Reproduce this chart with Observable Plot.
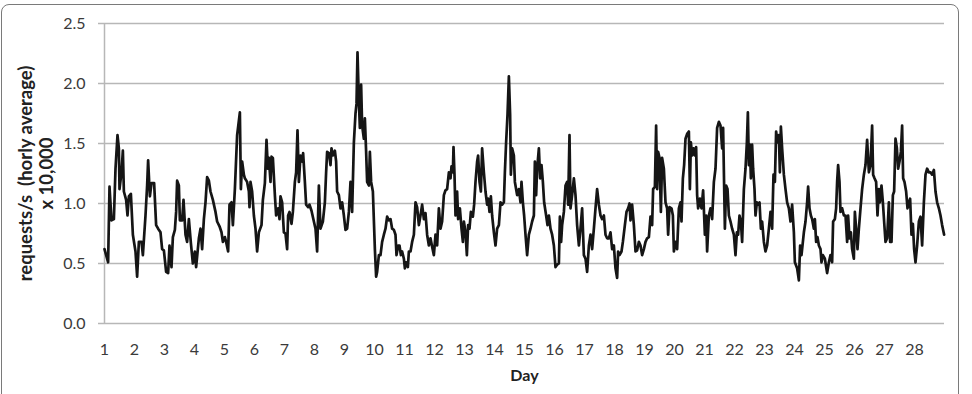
<!DOCTYPE html>
<html>
<head>
<meta charset="utf-8">
<script src="https://cdn.jsdelivr.net/npm/d3@7"></script>
<script src="https://cdn.jsdelivr.net/npm/@observablehq/plot@0.6"></script>
<style>
  html, body { margin: 0; padding: 0; background: #fff; overflow: hidden; }
  #wrap { position: relative; width: 972px; height: 394px; }
  #border { position: absolute; left: 1px; top: 4px; width: 958px; height: 400px;
            border: 1.5px solid #7a7a7a; border-radius: 8px; pointer-events: none; box-sizing: border-box; }
</style>
</head>
<body>
<div id="wrap"><div id="border"></div></div>
<script>
// y axis ticks (requests/s x 10,000)
const yTicks = [0, 0.5, 1.0, 1.5, 2.0, 2.5];
// day labels on the x axis
const dayLabels = [1,2,3,4,5,6,7,8,9,10,11,12,13,14,15,16,17,18,19,20,21,22,23,24,25,26,27,28];
const yLabel1 = "requests/s\u00a0 (horly average)";
const yLabel2 = "x 10,000";
const xLabel = "Day";

// [hour since start, hourly average requests/s / 10,000]
const days1to5 = [
  [0,0.62],[2.9,0.51],[4.0,1.14],[5.6,0.86],[7.5,0.87],[8.8,1.29],[10.4,1.57],[11.5,1.46],[12.0,1.12],[13.6,1.26],
  [14.7,1.44],[15.5,1.10],[17.3,1.03],[18.4,0.90],[19.5,1.06],[21.1,1.08],[22.7,0.74],[24.8,0.60],[26.1,0.39],[27.5,0.68],
  [29.6,0.68],[30.7,0.57],[32.8,0.90],[34.1,1.15],[34.9,1.36],[36.3,1.06],[37.6,1.17],[39.7,1.17],[41.3,0.82],[42.9,0.79],
  [44.8,0.76],[46.1,0.62],[47.5,0.61],[49.3,0.43],[50.9,0.42],[52.0,0.65],[53.6,0.47],[54.7,0.72],[56.3,0.78],[57.3,0.93],
  [58.1,1.19],[59.5,1.15],[60.3,0.86],[62.1,0.86],[63.2,1.03],[64.8,0.74],[66.1,0.68],[67.5,0.87],[69.1,0.67],[70.7,0.50],
  [72.3,0.60],[73.3,0.47],[75.5,0.71],[76.8,0.79],[78.1,0.62],[79.5,0.87],[80.8,1.01],[82.1,1.22],[83.5,1.19],[84.8,1.10],
  [86.7,1.03],[88.8,0.93],[90.1,0.85],[92.0,0.81],[93.6,0.76],[94.7,0.68],[96.3,0.72],[97.3,0.68],[98.9,0.60],[100.0,0.99],
  [101.6,1.01],[102.7,0.82],[104.3,1.12],[106.1,1.57],[108.3,1.76],[109.1,1.12],[110.1,1.35],[111.5,1.24]
];
const days5to10 = [
  [112.3,1.21],[114.1,1.18],[115.5,1.10],[116.0,0.97],[116.8,1.18],[118.1,1.10],[119.5,0.90],[120.8,0.79],[122.1,0.60],[123.5,0.76],
  [125.6,0.82],[126.7,1.03],[128.3,1.17],[129.6,1.53],[130.7,1.29],[131.5,1.38],[132.8,1.18],[133.6,1.39],[134.7,1.38],[136.3,1.07],
  [137.3,0.90],[138.9,0.96],[140.0,0.87],[140.8,1.06],[142.1,1.01],[143.5,0.76],[144.8,0.75],[146.1,0.62],[146.9,0.90],[148.0,0.93],
  [149.6,0.83],[150.7,0.93],[152.3,1.18],[153.3,1.26],[154.4,1.61],[155.5,1.18],[156.8,1.40],[158.1,1.35],[158.9,1.42],[160.3,1.18],
  [161.3,0.99],[162.9,0.97],[164.0,0.99],[165.6,0.94],[167.5,0.85],[168.8,0.79],[170.1,0.60],[171.5,1.15],[172.8,0.79],[174.7,0.85],
  [176.3,1.01],[177.3,1.26],[178.1,1.43],[179.5,1.42],[180.8,1.32],[181.6,1.46],[182.7,1.40],[184.3,1.44],[185.3,1.35],[186.1,1.10],
  [187.5,1.07],[188.8,0.96],[190.1,1.01],[191.5,0.90],[192.8,0.78],[194.1,0.79],[195.5,0.93],[196.8,1.18],[198.1,0.93],[199.5,1.51],
  [200.8,1.75],[201.6,1.83],[202.4,2.26],[203.5,1.85],[204.3,1.63],[205.3,1.99],[206.1,1.65],[207.5,1.54],[208.3,1.71],[209.3,1.43],
  [210.1,1.18],[211.5,1.15],[212.3,1.43],[213.3,1.18],[214.7,1.10],[216.3,0.62],[217.3,0.39]
];
const days10to14 = [
  [218.1,0.43],[219.5,0.57],[220.8,0.57],[222.1,0.68],[223.5,0.74],[224.8,0.79],[226.1,0.89],[227.5,0.86],[228.8,0.87],[230.1,0.79],
  [231.5,0.78],[232.8,0.74],[233.6,0.57],[234.9,0.65],[236.0,0.65],[237.1,0.57],[238.1,0.60],[239.5,0.54],[240.3,0.46],[241.3,0.51],
  [242.7,0.47],[243.5,0.60],[244.8,0.60],[246.1,0.68],[247.5,0.74],[248.8,1.01],[250.1,0.97],[251.5,0.82],[252.8,0.90],[254.1,0.99],
  [255.5,0.87],[256.8,0.92],[258.1,0.74],[259.5,0.65],[260.8,0.71],[262.1,0.64],[263.5,0.57],[264.8,0.74],[266.1,0.65],[267.5,0.96],
  [268.8,0.79],[270.1,0.85],[271.5,1.07],[272.8,1.11],[274.1,1.12],[275.5,1.26],[276.8,1.21],[277.6,1.31],[278.7,1.26],[279.2,1.47],
  [280.0,1.24],[280.8,0.90],[282.1,1.10],[282.9,0.87],[284.3,0.96],[285.6,0.79],[286.7,0.68],[287.5,0.85],[288.8,0.76],[289.9,0.57],
  [290.9,0.82],[292.0,0.79],[293.1,0.93],[294.7,0.89],[295.7,0.99],[296.8,1.18],[298.1,1.35],[298.9,1.40],[300.0,1.18],[301.1,1.10],
  [302.1,1.46],[303.5,1.26],[304.8,1.10],[306.1,0.99],[306.9,1.04],[308.0,0.93],[309.1,1.06],[310.1,0.90],[311.5,0.76],[312.8,0.65],
  [314.1,0.79],[315.5,0.82],[316.8,1.01],[318.1,0.99],[319.5,1.01],[320.3,1.26],[321.3,1.51],[322.4,1.74],[323.5,2.06],[324.5,1.74],
  [325.1,1.24],[326.1,1.46],[327.5,1.40],[328.3,1.18]
];
const days14to19 = [
  [330.1,1.07],[331.5,1.12],[332.8,1.01],[333.6,1.18],[334.7,1.01],[335.7,0.90],[336.8,0.74],[338.1,0.57],[339.5,0.74],[340.8,0.79],
  [342.1,0.85],[343.5,0.90],[344.3,1.35],[345.3,1.07],[346.1,1.29],[347.5,1.46],[348.5,1.21],[349.6,1.32],[350.7,1.18],[351.7,1.01],
  [353.3,0.90],[354.4,0.82],[355.5,0.90],[356.8,0.79],[358.1,0.74],[359.5,0.65],[360.8,0.47],[362.1,0.49],[363.5,0.50],[364.3,0.89],
  [365.3,0.68],[366.1,0.82],[367.5,0.93],[368.8,1.15],[370.1,1.18],[370.9,0.99],[372.0,1.57],[372.8,0.96],[374.1,1.07],[375.5,1.21],
  [376.8,1.07],[378.1,0.82],[379.5,0.65],[380.8,0.79],[382.1,0.96],[383.5,0.57],[384.8,0.54],[386.1,0.43],[387.5,0.65],[388.8,0.74],
  [390.1,0.62],[391.5,0.79],[392.8,0.96],[394.1,1.12],[395.5,0.99],[396.8,0.90],[398.1,0.87],[399.5,0.90],[400.8,0.74],[402.1,0.71],
  [403.5,0.71],[404.8,0.76],[406.1,0.62],[407.5,0.65],[408.8,0.46],[410.1,0.38],[410.9,0.60],[412.0,0.57],[413.6,0.60],[414.7,0.68],
  [416.3,0.82],[417.6,0.93],[418.9,0.96],[420.0,1.00],[420.8,0.86],[422.1,0.99],[423.5,0.82],[424.8,0.60],[426.1,0.61],[427.5,0.68],
  [428.8,0.65],[430.1,0.57],[431.5,0.62],[432.8,0.68],[434.1,0.71],[435.5,0.72],[436.8,0.89],[438.1,0.82],[438.9,1.12],[440.3,1.14],
  [441.3,1.65],[442.1,1.12],[442.9,1.43],[444.0,1.38],[445.1,0.93],[446.1,1.38],[447.5,1.29]
];
const days19to24 = [
  [448.8,1.01],[450.1,0.96],[450.9,0.74],[452.0,0.97],[453.6,0.96],[454.7,0.90],[455.5,0.60],[456.8,0.68],[458.1,0.62],[459.5,0.96],
  [460.8,1.01],[461.6,0.85],[462.7,1.21],[463.7,1.32],[464.8,1.54],[466.1,1.58],[467.5,1.60],[468.3,1.12],[469.1,1.51],[470.1,1.40],
  [471.2,1.46],[472.3,1.40],[473.3,1.47],[474.1,1.07],[474.9,0.96],[476.3,1.04],[477.6,0.96],[478.9,1.11],[480.3,0.74],[481.3,0.90],
  [482.1,0.60],[483.5,0.90],[484.8,0.96],[486.1,0.87],[487.5,1.18],[488.8,1.29],[490.1,1.63],[491.5,1.68],[492.8,1.65],[494.1,1.46],
  [494.9,1.63],[496.3,0.79],[497.3,1.15],[498.4,1.12],[499.5,0.90],[500.8,0.85],[502.1,0.79],[503.5,0.74],[504.8,0.57],[505.9,0.76],
  [506.9,0.74],[508.0,0.90],[509.1,0.85],[510.1,0.68],[511.5,1.12],[512.8,1.29],[513.9,1.51],[514.7,1.76],[515.5,1.32],[516.3,1.49],
  [517.1,1.21],[518.1,1.49],[518.9,1.29],[520.0,1.12],[520.8,0.90],[521.9,1.01],[522.9,0.99],[524.0,1.01],[525.1,0.79],[526.1,0.85],
  [527.5,0.68],[528.8,0.60],[530.1,0.65],[531.5,0.79],[532.8,0.93],[534.1,0.79],[535.2,1.24],[536.3,1.18],[537.3,1.60],[538.4,1.51],
  [539.5,1.57],[540.3,1.26],[541.1,1.64],[542.1,1.46],[543.5,1.24],[544.8,1.12],[546.1,1.01],[547.5,0.96],[548.8,0.85],[550.1,0.99],
  [551.5,0.76],[552.3,0.51]
];
const days24to29 = [
  [554.1,0.46],[555.5,0.36],[556.5,0.65],[557.6,0.57],[558.7,0.68],[559.5,0.76],[560.8,0.85],[562.1,1.01],[562.9,1.14],[564.0,0.96],
  [565.1,0.90],[566.1,0.87],[567.5,0.79],[568.3,0.87],[569.3,0.68],[570.4,0.72],[571.5,0.65],[572.8,0.62],[573.6,0.51],[574.7,0.57],
  [576.3,0.54],[578.1,0.42],[579.5,0.51],[580.8,0.57],[582.1,0.51],[582.9,0.85],[584.3,0.87],[585.3,0.96],[586.1,1.18],[586.9,1.32],
  [588.0,1.18],[588.8,0.93],[590.1,0.96],[591.5,0.90],[592.8,0.90],[594.1,0.68],[594.9,0.90],[596.0,0.71],[597.1,0.76],[598.1,0.62],
  [599.5,0.54],[600.3,0.93],[601.3,0.79],[602.4,0.62],[603.5,0.79],[604.8,0.96],[606.1,1.12],[607.5,1.24],[608.8,1.32],[610.1,1.53],
  [611.5,1.26],[612.8,1.32],[614.1,1.65],[614.9,1.24],[616.0,1.21],[617.3,1.18],[618.4,0.90],[619.5,1.12],[620.3,1.01],[621.6,1.15],
  [622.7,1.01],[623.7,0.85],[624.8,0.68],[626.1,0.71],[627.5,1.01],[628.5,0.68],[629.6,0.68],[630.7,1.07],[631.7,1.10],[632.8,1.54],
  [633.9,1.46],[634.9,1.29],[636.0,1.35],[637.1,1.43],[638.1,1.65],[638.9,1.21],[640.0,1.18],[641.3,1.10],[642.4,0.96],[643.5,1.01],
  [644.5,1.04],[645.6,0.74],[646.7,0.83],[647.7,0.62],[648.8,0.51],[650.1,0.65],[651.5,0.85],[652.8,0.89],[654.1,0.65],[655.5,1.01],
  [656.8,1.24],[658.1,1.29],[659.5,1.26],[660.8,1.26],[662.1,1.24],[663.5,1.28],[664.8,1.10],[666.1,1.01],[667.5,0.96],[668.8,0.90],
  [670.1,0.82],[671.7,0.74]
];

const series = [...days1to5, ...days5to10, ...days10to14, ...days14to19, ...days19to24, ...days24to29]
  .map(([hour, value]) => ({hour, value}));
const dayTicks = dayLabels.map(d => (d - 1) * 24);

const gridColor = "#b7b7b7";
const font = "Lato, 'Open Sans', sans-serif";

const chart = Plot.plot({
  width: 972,
  height: 394,
  marginLeft: 104,
  marginRight: 28,
  marginTop: 23,
  marginBottom: 71,
  style: {fontFamily: font, background: "transparent", overflow: "visible"},
  x: {domain: [0, 672], axis: null},
  y: {domain: [0, 2.5], axis: null},
  marks: [
    Plot.ruleY(yTicks, {stroke: gridColor, strokeWidth: 1.5}),
    Plot.ruleX([0], {stroke: gridColor, strokeWidth: 1.5}),
    Plot.axisY({ticks: yTicks, tickSize: 6, tickPadding: 13, tickFormat: d => d.toFixed(1),
      stroke: gridColor, strokeWidth: 1.5, fill: "#3a3a3a", fontSize: 16, label: null}),
    Plot.axisX({ticks: dayTicks, tickSize: 0, tickPadding: 20, tickFormat: h => String(h / 24 + 1),
      fill: "#3a3a3a", fontSize: 16, label: null}),
    Plot.line(series, {x: "hour", y: "value", stroke: "#151515", strokeWidth: 2.7, strokeLinejoin: "round"}),
    Plot.text([yLabel1], {frameAnchor: "left", textAnchor: "middle", dx: -78, rotate: -90, fontWeight: "bold", fontSize: 18.5, fill: "#222"}),
    Plot.text([yLabel2], {frameAnchor: "left", textAnchor: "middle", dx: -57, rotate: -90, fontWeight: "bold", fontSize: 18.5, fill: "#222"}),
    Plot.text([xLabel], {frameAnchor: "bottom", dy: 57, fontWeight: "bold", fontSize: 16, fill: "#222"})
  ]
});
chart.style.position = "absolute";
chart.style.left = "0";
chart.style.top = "0";
document.getElementById("wrap").prepend(chart);
</script>
</body>
</html>
